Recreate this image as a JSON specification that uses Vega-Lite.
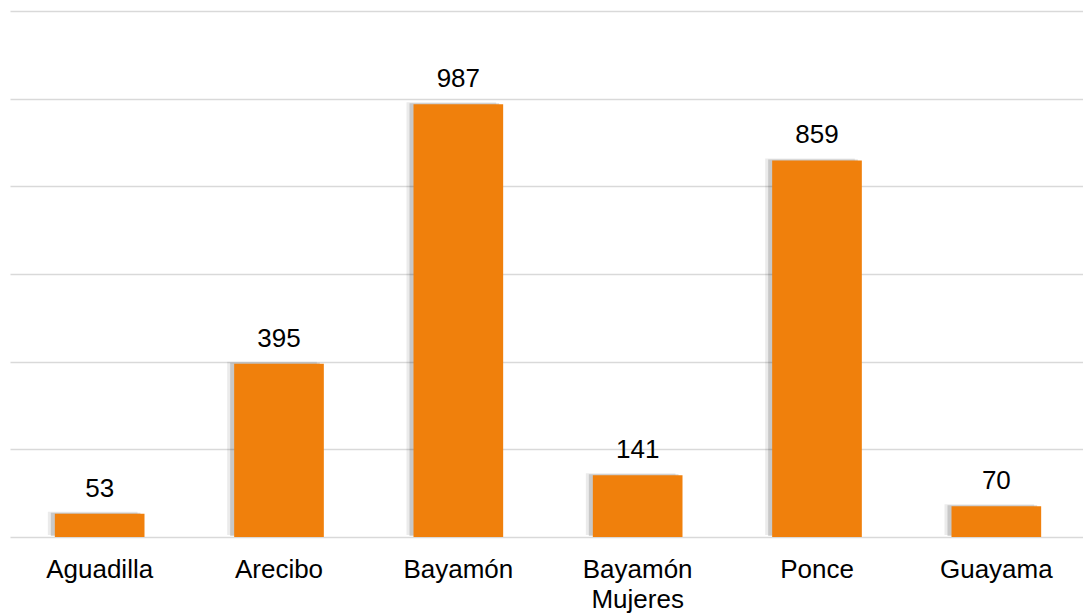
{
  "$schema": "https://vega.github.io/schema/vega-lite/v6.json",
  "width": 1076,
  "height": 526,
  "autosize": "none",
  "padding": {"left": 10, "top": 11, "right": 0, "bottom": 79},
  "background": "white",
  "config": {"view": {"stroke": null}, "font": "Liberation Sans"},
  "data": {
    "values": [
      {"sede": "Aguadilla", "valor": 53},
      {"sede": "Arecibo", "valor": 395},
      {"sede": "Bayamón", "valor": 987},
      {"sede": "Bayamón Mujeres", "valor": 141},
      {"sede": "Ponce", "valor": 859},
      {"sede": "Guayama", "valor": 70}
    ]
  },
  "encoding": {
    "x": {
      "field": "sede",
      "type": "nominal",
      "sort": null,
      "scale": {"paddingInner": 0.5, "paddingOuter": 0.25},
      "axis": {
        "title": null,
        "ticks": false,
        "domain": false,
        "labelAngle": 0,
        "labelFont": "Liberation Sans",
        "labelFontSize": 26,
        "labelColor": "#000000",
        "labelPadding": 19,
        "labelLineHeight": 30,
        "labelExpr": "datum.value == 'Bayamón Mujeres' ? ['Bayamón', 'Mujeres'] : datum.value"
      }
    },
    "y": {
      "field": "valor",
      "type": "quantitative",
      "scale": {"domain": [0, 1200], "nice": false},
      "axis": {
        "title": null,
        "labels": false,
        "ticks": false,
        "domain": false,
        "values": [0, 200, 400, 600, 800, 1000, 1200],
        "grid": true,
        "gridColor": "#d9d9d9",
        "gridWidth": 1.5
      }
    }
  },
  "layer": [
    {"mark": {"type": "bar", "color": "#000000", "opacity": 0.08, "xOffset": -7, "yOffset": -2}},
    {"mark": {"type": "bar", "color": "#000000", "opacity": 0.15, "xOffset": -4, "yOffset": -1}},
    {"mark": {"type": "bar", "color": "#F0800C"}},
    {
      "mark": {"type": "text", "baseline": "alphabetic", "dy": -17, "fontSize": 26, "font": "Liberation Sans", "color": "#000000"},
      "encoding": {"text": {"field": "valor", "type": "quantitative"}}
    }
  ]
}
